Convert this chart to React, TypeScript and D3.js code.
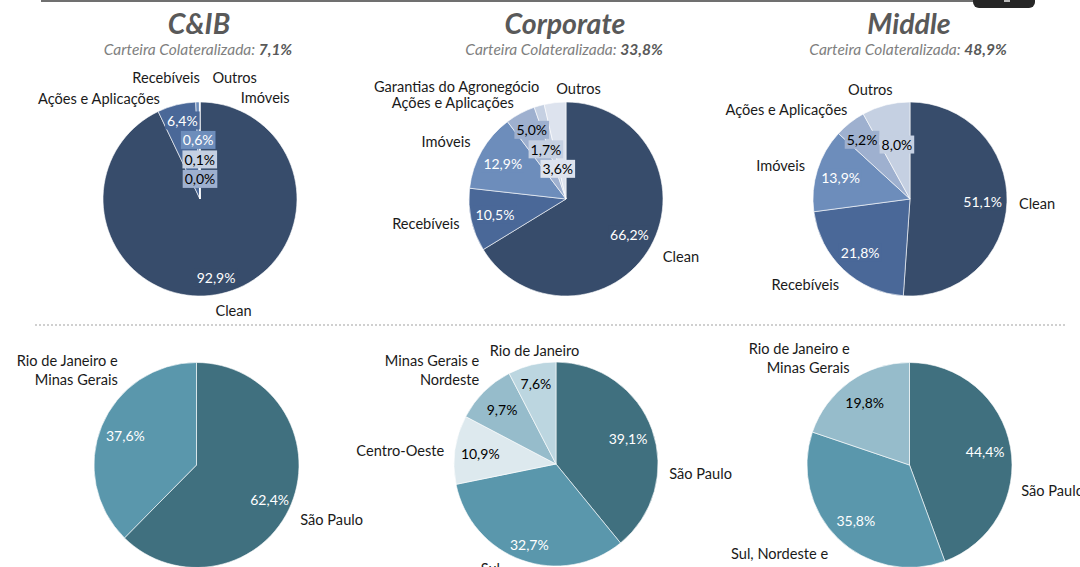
import React, { useEffect, useRef } from "react";
import * as d3 from "d3";

// ---------- DATA ----------
const titles = ["C&IB", "Corporate", "Middle"];
const collateral = ["7,1%", "33,8%", "48,9%"];

const cibCategories = ["Clean", "Recebíveis", "Imóveis", "Outros", "Ações e Aplicações"];
const cibValues = [92.9, 6.4, 0.6, 0.1, 0.0];

const corpCategories = ["Clean", "Recebíveis", "Imóveis", "Ações e Aplicações", "Garantias do Agronegócio", "Outros"];
const corpValues = [66.2, 10.5, 12.9, 5.0, 1.7, 3.6];

const middleCategories = ["Clean", "Recebíveis", "Imóveis", "Ações e Aplicações", "Outros"];
const middleValues = [51.1, 21.8, 13.9, 5.2, 8.0];

const cibRegions = ["São Paulo", "Rio de Janeiro e\nMinas Gerais"];
const cibRegionValues = [62.4, 37.6];

const corpRegions = ["São Paulo", "Sul", "Centro-Oeste", "Minas Gerais e\nNordeste", "Rio de Janeiro"];
const corpRegionValues = [39.1, 32.7, 10.9, 9.7, 7.6];

const middleRegions = ["São Paulo", "Sul, Nordeste e\nCentro-Oeste", "Rio de Janeiro e\nMinas Gerais"];
const middleRegionValues = [44.4, 35.8, 19.8];

// ---------- STYLES / LAYOUT ----------
const blue = {
  "Clean": "#374c6b",
  "Recebíveis": "#4a6898",
  "Imóveis": "#6d8dbb",
  "Ações e Aplicações": "#9eb0cf",
  "Garantias do Agronegócio": "#c5d0e2",
};
const cibColors = cibCategories.map((c) => (c === "Outros" ? "#c5d0e2" : blue[c]));
const corpColors = corpCategories.map((c) => (c === "Outros" ? "#dde3ee" : blue[c]));
const middleColors = middleCategories.map((c) => (c === "Outros" ? "#c5d0e2" : blue[c]));
const darkText = new Set(["Ações e Aplicações", "Garantias do Agronegócio", "Outros"]);

const cibRegionColors = ["#40707f", "#5a97ac"];
const corpRegionColors = ["#40707f", "#5a97ac", "#dde9ee", "#96bccb", "#bcd6e0"];
const middleRegionColors = ["#40707f", "#5a97ac", "#96bccb"];
const regionDark = [false, false, true, true, true];

type Lay = [string, number, number];

const charts = [
  {
    cx: 200, cy: 199, r: 97, cats: cibCategories, vals: cibValues, colors: cibColors, boxes: true,
    dark: cibCategories.map((c) => darkText.has(c)),
    catLay: [["middle", 9, 3], ["middle", -7, -14], ["middle", 68, 9], ["middle", 35, -11], ["middle", -101, 10]] as Lay[],
    valLay: [[0, 8], [0, -8], [0, 0], [0, 0], [0, 0]],
  },
  {
    cx: 566, cy: 199, r: 97, cats: corpCategories, vals: corpValues, colors: corpColors, boxes: true,
    dark: corpCategories.map((c) => darkText.has(c)),
    catLay: [["start", 0, 3], ["end", 2, 0], ["end", 1, -3], ["end", 0, 1], ["end", 4, -6], ["middle", 25, -1]] as Lay[],
    valLay: [[0, 0], [0, 0], [0, 0], [0, -5], [0, 0], [0, 0]],
  },
  {
    cx: 910, cy: 199, r: 97, cats: middleCategories, vals: middleValues, colors: middleColors, boxes: true,
    dark: middleCategories.map((c) => darkText.has(c)),
    catLay: [["start", -2, 0], ["end", 5, 4], ["end", 1, -1], ["end", 6, -3], ["middle", -12, -2]] as Lay[],
    valLay: [[0, 0], [0, 0], [0, 0], [-3, -2], [5, 16]],
  },
  {
    cx: 196.5, cy: 465, r: 102.5, cats: cibRegions, vals: cibRegionValues, colors: cibRegionColors, boxes: false,
    dark: regionDark,
    catLay: [["start", -4, 10], ["end", 29, -51]] as Lay[],
    valLay: [[2, 5], [0, 0]],
  },
  {
    cx: 556, cy: 464, r: 102, cats: corpRegions, vals: corpRegionValues, colors: corpRegionColors, boxes: false,
    dark: regionDark,
    catLay: [["start", 4, 48], ["end", -17, -5], ["end", 3, 2], ["end", 5, -12], ["middle", 6, -1]] as Lay[],
    valLay: [[0, 0], [-1, 8], [0, 0], [0, 0], [-2, -6]],
  },
  {
    cx: 909.5, cy: 465, r: 102.5, cats: middleRegions, vals: middleRegionValues, colors: middleRegionColors, boxes: false,
    dark: [false, false, true],
    catLay: [["start", -3, 45], ["end", 0, 14], ["end", 8, -13]] as Lay[],
    valLay: [[0, 0], [0, 0], [0, 0]],
  },
];

const FONT = "Lato, 'Open Sans', sans-serif";
const CAT_SIZE = 14.6;
const VAL_SIZE = 14;
const fmt = (v: number) => v.toFixed(1).replace(".", ",") + "%";

export default function App() {
  const ref = useRef<SVGSVGElement>(null);

  useEffect(() => {
    const svg = d3.select(ref.current);
    svg.selectAll("*").remove();

    // top rule & tab
    svg.append("line").attr("x1", 41).attr("x2", 975).attr("y1", 1).attr("y2", 1)
      .attr("stroke", "#404040").attr("stroke-width", 1.5);
    svg.append("rect").attr("x", 973).attr("y", -8).attr("width", 62).attr("height", 16).attr("rx", 6)
      .attr("fill", "#262626");
    svg.append("rect").attr("x", 1004).attr("y", 0).attr("width", 6).attr("height", 2).attr("fill", "#bbb");

    // dotted separator
    svg.append("line").attr("x1", 35).attr("x2", 1067).attr("y1", 325).attr("y2", 325)
      .attr("stroke", "#d0d0d0").attr("stroke-width", 2).attr("stroke-dasharray", "2 2");

    // titles
    charts.slice(0, 3).forEach((c, i) => {
      svg.append("text").attr("x", c.cx - 1).attr("y", 34).attr("text-anchor", "middle")
        .attr("font-family", FONT).attr("font-weight", "bold").attr("font-style", "italic")
        .attr("font-size", 28.5).attr("fill", "#595959").text(titles[i]);
      const t = svg.append("text").attr("x", c.cx - 2).attr("y", 55).attr("text-anchor", "middle")
        .attr("font-family", FONT).attr("font-style", "italic").attr("font-size", 15.5).attr("fill", "#7f7f7f");
      t.append("tspan").text("Carteira Colateralizada: ");
      t.append("tspan").attr("font-weight", "bold").attr("fill", "#595959").text(collateral[i]);
    });

    const pie = d3.pie<number>().sort(null).value((d) => d);

    charts.forEach((c) => {
      const arcs = pie(c.vals);
      const arc = d3.arc<d3.PieArcDatum<number>>().innerRadius(0).outerRadius(c.r);
      const g = svg.append("g");
      g.selectAll("path").data(arcs).join("path")
        .attr("transform", `translate(${c.cx},${c.cy})`)
        .attr("d", arc as any)
        .attr("fill", (_d, i) => c.colors[i])
        .attr("stroke", "#ffffff").attr("stroke-width", 0.75).attr("stroke-opacity", 0.8);

      const mid = (d: d3.PieArcDatum<number>) => (d.startAngle + d.endAngle) / 2;

      // category labels
      arcs.forEach((d, i) => {
        const a = mid(d);
        const R = c.r + 14;
        const [anchor, dx, dy] = c.catLay[i];
        const x = c.cx + R * Math.sin(a) + dx;
        const y = c.cy - R * Math.cos(a) + dy;
        const lines = c.cats[i].split("\n");
        const t = g.append("text").attr("font-family", FONT).attr("font-size", CAT_SIZE).attr("fill", "#1a1a1a")
          .attr("text-anchor", anchor).attr("dominant-baseline", "central");
        lines.forEach((ln, k) => {
          t.append("tspan").attr("x", x).attr("y", y + (k - (lines.length - 1) / 2) * 18.7).text(ln);
        });
      });

      // value labels with simple downward de-overlap
      const placed: { x: number; y: number; w: number }[] = [];
      const H = 19.5;
      arcs.forEach((d, i) => {
        const a = mid(d);
        const R = c.r * 0.75;
        const x = c.cx + R * Math.sin(a) + c.valLay[i][0];
        let y = c.cy - R * Math.cos(a) + c.valLay[i][1];
        const tg = g.append("g");
        const text = tg.append("text").attr("font-family", FONT).attr("font-size", VAL_SIZE)
          .attr("text-anchor", "middle").attr("dominant-baseline", "central")
          .attr("fill", c.dark[i] ? "#000000" : "#ffffff").text(fmt(c.vals[i]));
        const w = (text.node() as SVGTextElement).getComputedTextLength() + 4;
        let moved = true;
        let guard = 0;
        while (moved && guard < 20) {
          moved = false;
          guard++;
          for (const p of placed) {
            const hOver = Math.min(x + w / 2, p.x + p.w / 2) - Math.max(x - w / 2, p.x - p.w / 2);
            if (hOver > 1.5 && Math.abs(y - p.y) < H - 0.5) {
              y = p.y + H;
              moved = true;
            }
          }
        }
        placed.push({ x, y, w });
        text.attr("x", x).attr("y", y);
        if (c.boxes) {
          tg.insert("rect", "text").attr("x", x - w / 2).attr("y", y - 9).attr("width", w).attr("height", 18)
            .attr("fill", c.colors[i]);
        }
      });
    });
  }, []);

  return (
    <svg ref={ref} width={1080} height={567}
      style={{ position: "absolute", left: 0, top: 0, display: "block", background: "#fff" }} />
  );
}
